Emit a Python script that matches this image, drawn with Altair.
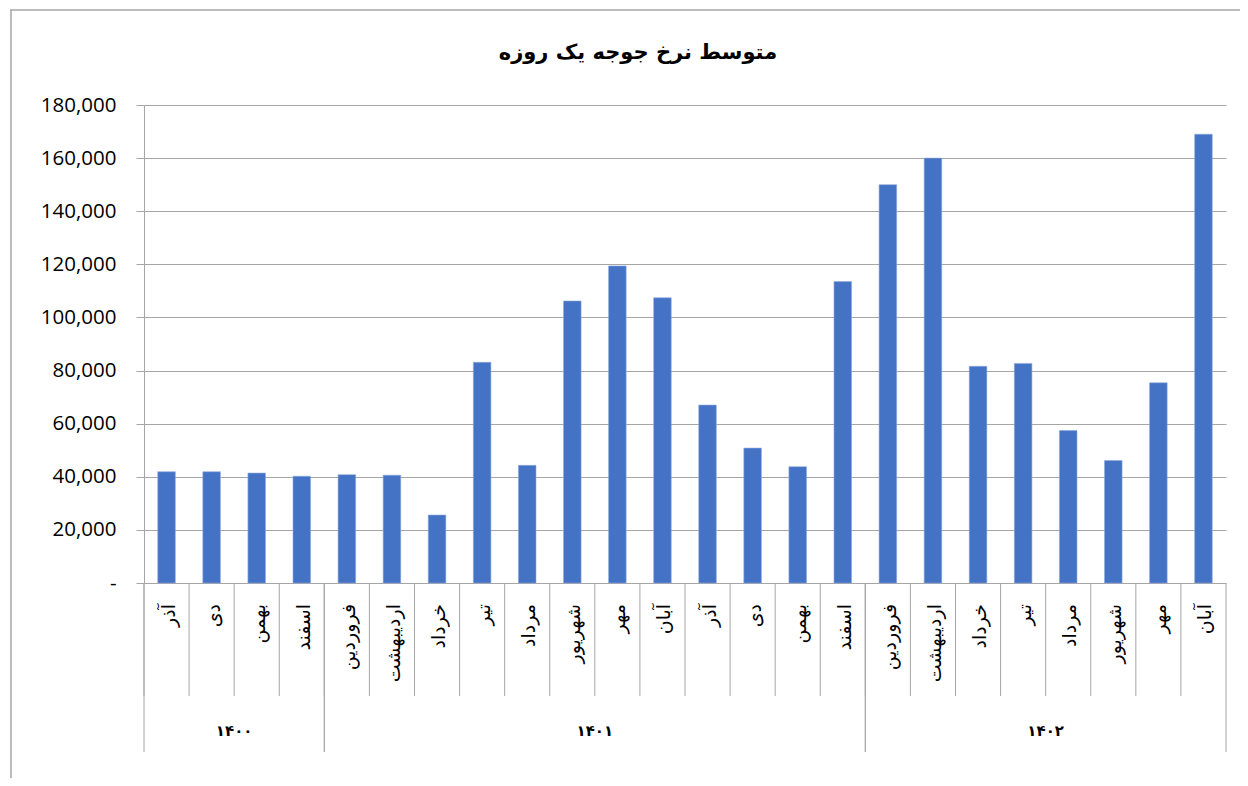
import altair as alt
import pandas as pd

months = ["آذر", "دی", "بهمن", "اسفند",
          "فروردین", "اردیبهشت", "خرداد", "تیر", "مرداد", "شهریور", "مهر", "آبان",
          "آذر", "دی", "بهمن", "اسفند",
          "فروردین", "اردیبهشت", "خرداد", "تیر", "مرداد", "شهریور", "مهر", "آبان"]
years = ["۱۴۰۰"] * 4 + ["۱۴۰۱"] * 12 + ["۱۴۰۲"] * 8
values = [41900, 41900, 41400, 40200,
          40800, 40600, 25600, 83100, 44300, 106200, 119400, 107400,
          67000, 50800, 43800, 113500,
          150000, 160000, 81600, 82700, 57400, 46100, 75400, 169000]
y_ticks = [0, 20000, 40000, 60000, 80000, 100000, 120000, 140000, 160000, 180000]
title_text = "متوسط نرخ جوجه یک روزه"

df = pd.DataFrame({"idx": list(range(len(months))), "month": months,
                   "year": years, "value": values})

W, H = 1082, 478
GRAY = "#a6a6a6"
BAR = "#4472C4"
AR_FONT = "DejaVu Sans"

xscale = alt.Scale(domain=[0, len(months)], nice=False, zero=False, padding=0)
base = alt.Chart(df)

bars = base.transform_calculate(
    x0="datum.idx + 0.305", x1="datum.idx + 0.695"
).mark_bar(color=BAR, stroke="#8faadc", strokeWidth=0.6, orient="vertical").encode(
    x=alt.X("x0:Q", scale=xscale, axis=None),
    x2="x1:Q",
    y=alt.Y("value:Q",
            scale=alt.Scale(domain=[0, 180000], nice=False, padding=0),
            axis=alt.Axis(values=y_ticks, title=None,
                          labelExpr="datum.value == 0 ? '-\u00a0\u00a0' : format(datum.value, ',')",
                          labelFont="Open Sans", labelFontSize=20.5, labelColor="#000000",
                          labelPadding=20, tickSize=8, tickColor=GRAY,
                          domainColor=GRAY, gridColor=GRAY, gridWidth=1,
                          labelOverlap=False)),
    y2=alt.datum(0),
)

month_div = base.mark_rule(color=GRAY, strokeWidth=1).encode(
    x=alt.X("idx:Q", scale=xscale, axis=None),
    y=alt.value(H), y2=alt.value(H + 113),
)

groups = base.transform_aggregate(
    start="min(idx)", last="max(idx)", groupby=["year"]
).transform_calculate(
    end="datum.last + 1", mid="(datum.start + datum.last + 1) / 2"
)

group_div = groups.transform_fold(["start", "end"], as_=["k", "pos"]).mark_rule(
    color=GRAY, strokeWidth=1
).encode(
    x=alt.X("pos:Q", scale=xscale, axis=None),
    y=alt.value(H), y2=alt.value(H + 169),
)

year_text = groups.mark_text(font=AR_FONT, fontSize=15, fontWeight="bold",
                             color="#000000", baseline="middle").encode(
    x=alt.X("mid:Q", scale=xscale, axis=None),
    y=alt.value(H + 148),
    text="year:N",
)

month_text = base.transform_calculate(c="datum.idx + 0.5").mark_text(
    font=AR_FONT, fontSize=19, angle=270, align="right", baseline="middle",
    color="#000000", dy=2
).encode(
    x=alt.X("c:Q", scale=xscale, axis=None),
    y=alt.value(H + 21),
    text="month:N",
)

frame_df = pd.DataFrame({"t": [title_text]})
frame_left = alt.Chart(frame_df).mark_rule(color=GRAY, strokeWidth=1.5).encode(
    x=alt.value(-133), y=alt.value(-95), y2=alt.value(H + 195))
frame_top = alt.Chart(frame_df).mark_rule(color=GRAY, strokeWidth=1.5).encode(
    x=alt.value(-134), x2=alt.value(W + 14), y=alt.value(-95))
title = alt.Chart(frame_df).mark_text(
    font=AR_FONT, fontSize=21, fontWeight="bold", color="#000000",
    align="center", baseline="middle"
).encode(x=alt.value(494), y=alt.value(-52), text="t:N")

chart = alt.layer(
    frame_left, frame_top, title, bars, month_div, group_div, month_text, year_text
).properties(
    width=W, height=H,
    padding={"left": 136, "top": 97, "right": 14, "bottom": 195},
    autosize=alt.AutoSizeParams(type="none"),
).configure_view(stroke=None)

chart.save("out.html", embed_options={"renderer": "svg", "actions": False})
